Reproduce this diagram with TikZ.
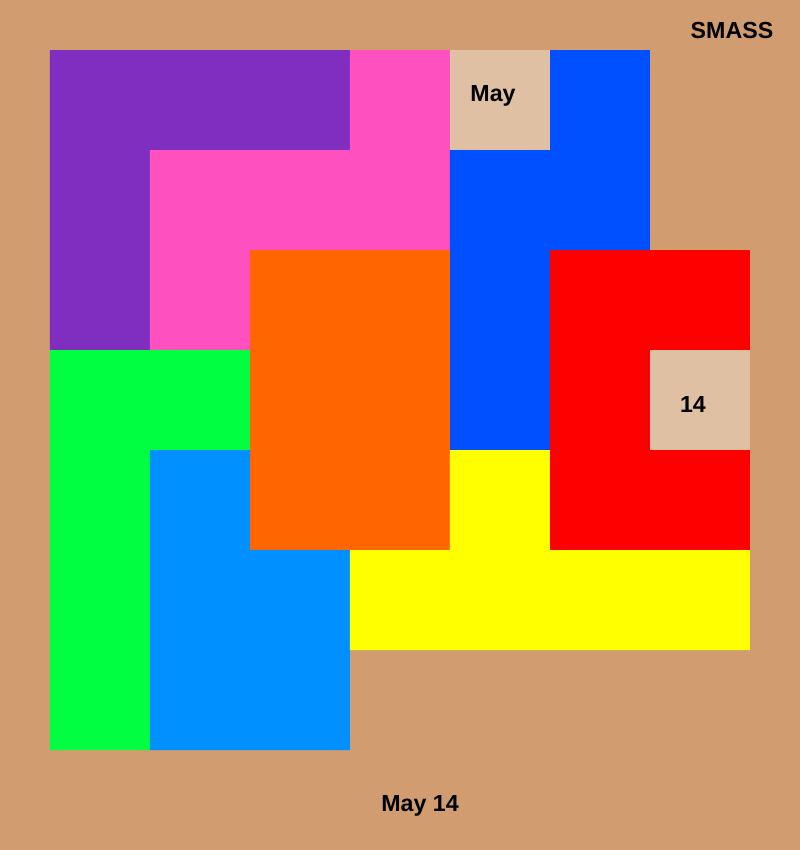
\documentclass[tikz,border=0pt]{standalone}
\usepackage{fontspec}
\setmainfont{Liberation Sans}
\usepackage{tikz}

\definecolor{board}{RGB}{208,156,112}
\definecolor{hole}{RGB}{224,192,162}
\definecolor{pviolet}{RGB}{128,46,192}
\definecolor{ppink}{RGB}{255,80,192}
\definecolor{pblue}{RGB}{0,80,255}
\definecolor{porange}{RGB}{255,102,0}
\definecolor{pred}{RGB}{255,0,0}
\definecolor{pgreen}{RGB}{0,255,64}
\definecolor{psky}{RGB}{0,144,255}
\definecolor{pyellow}{RGB}{255,255,0}

\tikzset{
    celltext/.style={font=\fontsize{6.6}{7.5}\selectfont\bfseries, inner sep=0pt}
}

\begin{document}
\begin{tikzpicture}[x=0.01cm, y=-0.01cm]
        \fill[board] (0,0) rectangle (800,850);

        % pieces
        \fill[pviolet] (50,50) -- (350,50) -- (350,150) -- (150,150) -- (150,350) -- (50,350) -- cycle;
        \fill[ppink] (350,50) -- (450,50) -- (450,250) -- (250,250) -- (250,350) -- (150,350) -- (150,150) -- (350,150) -- cycle;
        \fill[pblue] (550,50) -- (650,50) -- (650,250) -- (550,250) -- (550,450) -- (450,450) -- (450,150) -- (550,150) -- cycle;
        \fill[porange] (250,250) rectangle (450,550);
        \fill[pred] (550,250) -- (750,250) -- (750,350) -- (650,350) -- (650,450) -- (750,450) -- (750,550) -- (550,550) -- cycle;
        \fill[pgreen] (50,350) -- (250,350) -- (250,450) -- (150,450) -- (150,750) -- (50,750) -- cycle;
        \fill[psky] (150,450) -- (250,450) -- (250,550) -- (350,550) -- (350,750) -- (150,750) -- cycle;
        \fill[pyellow] (450,450) -- (550,450) -- (550,550) -- (750,550) -- (750,650) -- (350,650) -- (350,550) -- (450,550) -- cycle;

        % open cells
        \fill[hole] (450,50) rectangle (550,150);
        \fill[hole] (650,350) rectangle (750,450);

        \node[celltext] (month) at (493,96) {May};
        \node[celltext] (day) at (693,405) {14};
        \node[celltext] (title) at (732,30) {SMASS};
        \node[celltext] (date) at (420,806) {May 14};
\end{tikzpicture}
\end{document}
